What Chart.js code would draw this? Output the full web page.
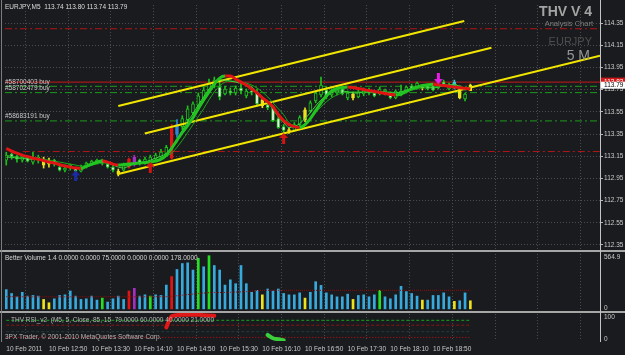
<!DOCTYPE html>
<html>
<head>
<meta charset="utf-8">
<title>EURJPY,M5</title>
<script src="https://cdn.jsdelivr.net/npm/chart.js@4.4.1/dist/chart.umd.min.js"></script>
<style>
html,body{margin:0;padding:0;background:#1a1b1e;overflow:hidden;}
#wrap{position:relative;width:625px;height:355px;}
#c{display:block;}
</style>
</head>
<body>
<div id="wrap"><canvas id="c" width="625" height="355"></canvas></div>
<script>
// ================= DATA =================
const headerText = 'EURJPY,M5  113.74 113.80 113.74 113.79';
const timeLabels = ['10 Feb 2011','10 Feb 12:50','10 Feb 13:30','10 Feb 14:10','10 Feb 14:50','10 Feb 15:30','10 Feb 16:10','10 Feb 16:50','10 Feb 17:30','10 Feb 18:10','10 Feb 18:50'];
const priceTicks = [114.35,114.15,113.95,113.75,113.55,113.35,113.15,112.95,112.75,112.55,112.35];

const opens = [
 113.114,113.168,113.150,113.114,113.141,113.097,113.114,113.123,113.079,113.114,
 113.052,113.025,113.043,113.043,113.016,113.052,113.079,113.097,113.114,113.079,
 113.052,113.016,113.025,113.052,113.079,113.114,113.097,113.097,113.123,113.141,
 113.168,113.132,113.346,113.417,113.480,113.542,113.604,113.676,113.738,113.791,
 113.774,113.711,113.738,113.720,113.765,113.694,113.738,113.729,113.658,113.613,
 113.587,113.489,113.417,113.391,113.382,113.435,113.480,113.560,113.649,113.702,
 113.747,113.702,113.720,113.756,113.676,113.711,113.685,113.711,113.747,113.720,
 113.711,113.711,113.720,113.676,113.702,113.738,113.783,113.765,113.765,113.783,
 113.783,113.765,113.818,113.756,113.765,113.747,113.667,113.740];
const highs = [
 113.186,113.177,113.159,113.159,113.150,113.186,113.159,113.141,113.132,113.123,
 113.061,113.070,113.079,113.052,113.070,113.097,113.114,113.123,113.123,113.097,
 113.070,113.034,113.088,113.132,113.159,113.123,113.141,113.159,113.177,113.212,
 113.248,113.435,113.480,113.515,113.604,113.640,113.720,113.774,113.845,113.863,
 113.845,113.783,113.765,113.783,113.809,113.756,113.774,113.756,113.676,113.631,
 113.604,113.506,113.435,113.408,113.453,113.515,113.587,113.649,113.738,113.863,
 113.774,113.756,113.783,113.774,113.738,113.729,113.747,113.765,113.765,113.738,
 113.774,113.756,113.729,113.747,113.791,113.783,113.800,113.818,113.791,113.800,
 113.800,113.809,113.836,113.809,113.836,113.783,113.720,113.800];
const lows = [
 113.070,113.123,113.097,113.097,113.097,113.079,113.088,113.043,113.052,113.061,
 113.016,113.008,113.025,113.008,113.008,113.043,113.070,113.088,113.070,113.043,
 113.008,112.972,113.016,113.043,113.061,113.070,113.079,113.079,113.114,113.123,
 113.159,113.123,113.319,113.391,113.462,113.524,113.587,113.658,113.720,113.765,
 113.658,113.702,113.702,113.702,113.711,113.676,113.702,113.604,113.587,113.569,
 113.462,113.400,113.364,113.355,113.373,113.417,113.462,113.542,113.631,113.685,
 113.667,113.685,113.702,113.702,113.658,113.658,113.676,113.694,113.702,113.685,
 113.702,113.702,113.667,113.667,113.694,113.720,113.747,113.756,113.747,113.747,
 113.738,113.756,113.791,113.747,113.756,113.667,113.649,113.740];
const closes = [
 113.159,113.141,113.123,113.141,113.106,113.132,113.141,113.070,113.114,113.079,
 113.025,113.043,113.070,113.016,113.052,113.088,113.106,113.114,113.088,113.052,
 113.025,112.990,113.070,113.123,113.141,113.088,113.123,113.141,113.159,113.186,
 113.230,113.400,113.435,113.489,113.578,113.622,113.694,113.747,113.809,113.836,
 113.685,113.756,113.720,113.765,113.738,113.738,113.729,113.622,113.604,113.587,
 113.471,113.408,113.382,113.373,113.435,113.497,113.569,113.631,113.720,113.791,
 113.685,113.738,113.765,113.711,113.720,113.676,113.729,113.747,113.720,113.694,
 113.756,113.747,113.676,113.738,113.738,113.774,113.756,113.809,113.783,113.756,
 113.747,113.791,113.800,113.791,113.818,113.676,113.711,113.790];

// candle highlight classes: n normal, y yellow, r red, m magenta, b blue, c cyan
const candleTags = 'nnnnnnn' + 'yy' + 'nnnnnnnnnnnn' + 'y' + 'n' + 'r' + 'm' + 'nnnnnn' + 'r' + 'b' +
  'nnnnnnnnnnnnnnn' + 'y' + 'nnnn' + 'y' + 'nn' + 'y' + 'nnnnnnnn' + 'y' + 'nnnnnnnnnnnn' + 'y' + 'nnnnn' + 'c' + 'y' + 'n' + 'y';

// Better Volume
const volumes = [
 195,156,122,168,129,136,129,96,62,102,
 136,142,181,129,96,102,129,89,109,69,
 102,129,96,181,208,129,142,129,142,136,
 241,327,399,459,466,393,512,426,538,439,
 393,241,294,255,439,255,168,188,142,201,
 181,201,156,142,142,162,109,168,275,238,
 162,142,122,122,149,96,136,142,122,142,
 188,122,102,142,228,175,156,129,89,89,
 136,136,162,122,76,82,162,82];
const volumeTags = 'nnnnnnn' + 'yy' + 'nnnnnnnnn' + 'g' + 'nnnn' + 'r' + 'm' + 'nn' + 'g' + 'nnn' + 'r' + 'nnnn' + 'g' + 'n' + 'g' +
  'nnnnnnnnn' + 'y' + 'nnnnnnn' + 'y' + 'nnnnnnnn' + 'y' + 'nnnn' + 'g' + 'nnnnnnn' + 'y' + 'nnnnn' + 'y' + 'nn' + 'y';
const volumeAvg = [
 124,124,123,123,123,122,122,122,122,122,
 122,122,122,122,122,122,122,122,122,122,
 122,122,122,122,123,123,123,123,123,123,
 124,128,133,139,145,150,156,160,164,166,
 166,167,168,170,172,175,180,186,188,188,
 188,188,188,188,188,188,188,188,188,188,
 188,188,188,188,188,188,188,188,188,188,
 188,188,188,188,188,188,188,188,188,188,
 188,188,188,188,188,188,188,188];

// thick trend average (red falling / green rising)
const trendMA = [
 113.221,113.195,113.177,113.159,113.146,113.132,113.123,113.110,113.097,113.088,
 113.074,113.061,113.052,113.043,113.039,113.061,113.079,113.097,113.106,113.097,
 113.079,113.070,113.074,113.079,113.083,113.088,113.092,113.097,113.106,113.123,
 113.159,113.221,113.293,113.364,113.426,113.497,113.578,113.658,113.729,113.800,
 113.854,113.872,113.872,113.845,113.818,113.791,113.756,113.720,113.676,113.640,
 113.595,113.524,113.471,113.435,113.417,113.408,113.435,113.489,113.560,113.631,
 113.694,113.738,113.760,113.769,113.774,113.769,113.760,113.751,113.742,113.734,
 113.725,113.716,113.707,113.702,113.711,113.734,113.756,113.774,113.787,113.794,
 113.798,113.794,113.787,113.780,113.774,113.767,113.762,113.756];
const emaFast = [
 113.141,113.141,113.132,113.132,113.123,113.123,113.123,113.114,113.106,113.097,
 113.079,113.061,113.052,113.043,113.043,113.052,113.070,113.088,113.097,113.088,
 113.070,113.052,113.043,113.061,113.079,113.088,113.097,113.114,113.132,113.150,
 113.177,113.230,113.302,113.382,113.462,113.533,113.613,113.685,113.756,113.809,
 113.836,113.836,113.827,113.818,113.809,113.791,113.774,113.729,113.685,113.640,
 113.569,113.506,113.453,113.408,113.417,113.444,113.489,113.542,113.604,113.658,
 113.694,113.720,113.738,113.738,113.729,113.720,113.720,113.729,113.729,113.720,
 113.729,113.729,113.720,113.720,113.729,113.747,113.756,113.774,113.774,113.774,
 113.765,113.774,113.791,113.791,113.800,113.774,113.747,113.765];
const emaSlow = [
 113.159,113.150,113.141,113.141,113.132,113.132,113.123,113.123,113.114,113.106,
 113.097,113.088,113.079,113.070,113.061,113.061,113.070,113.079,113.088,113.088,
 113.079,113.070,113.061,113.070,113.079,113.088,113.097,113.106,113.114,113.132,
 113.150,113.177,113.230,113.293,113.364,113.435,113.506,113.578,113.658,113.729,
 113.783,113.818,113.827,113.827,113.818,113.809,113.791,113.765,113.729,113.685,
 113.631,113.578,113.524,113.453,113.426,113.417,113.444,113.489,113.542,113.595,
 113.640,113.676,113.702,113.720,113.729,113.729,113.729,113.729,113.729,113.729,
 113.729,113.729,113.729,113.720,113.729,113.738,113.747,113.756,113.765,113.765,
 113.765,113.774,113.783,113.783,113.791,113.783,113.765,113.765];

// channel lines: [startBar, startPrice, endBar, endPrice]
const channelLines = [
 [20.99, 113.602, 85.85, 114.368],
 [25.96, 113.355, 90.95, 114.127],
 [20.80, 112.987, 111.30, 114.056]
];
// horizontal levels
const redDashLevels = [114.299, 113.192];
const redDashStart = [-0.24, 3.1];
const redSolidLevel = 113.818;
const buyLevels = [113.780, 113.723, 113.468];
const buyTickets = ['#58700403 buy', '#58702479 buy', '#58683191 buy'];
// signal arrows
const blueUpArrows = [{x:13, y:112.972}];
const redUpArrows = [{x:27, y:113.050}, {x:52, y:113.310}];
const magentaDownArrows = [{x:81, y:113.850}];

// RSI panel
const rsiLevels = [78, 60, 36, 15];
const rsiHighStart = 30;
const rsiHigh = [52, 93, 97, 98, 98, 98, 98, 97, 96, 95];
const rsiLowStart = 49;
const rsiLow = [24, 12, 8, 5];

const titleLines = ['THV V 4', 'Analysis Chart', 'EURJPY', '5 M'];
const volumeTitle = 'Better Volume 1.4 0.0000 0.0000 75.0000 0.0000 0.0000 178.0000';
const volumeMaxLabel = 564.9;
const rsiTitle = 'THV RSI_v2  (M5, 5, Close, 85, 15  79.0000 60.0000 40.0000 21.0000';
const copyrightText = '3PX Trader, \u00A9 2001-2010 MetaQuotes Software Corp.';
const bidLabel = '113.79', bidPrice = 113.79;
const askLabel = '113.82';

// ================= RENDER =================
const BG = '#1a1b1e';
const FONT = "'Liberation Sans', Arial, sans-serif";
const XMIN = -0.24, XMAX = 111.3;
const PMIN = 111.484, PMAX = 114.513;
const VMIN = -325, VMAX = 3075;
const RMIN = 1.82, RMAX = 1238.2;
const N = closes.length;
const idx = Array.from({length: N}, (_, i) => i);
const CANDLE_GREEN = '#1cc21c';
const tagColor = {y:'#ece21e', r:'#e01616', m:'#a530c0', b:'#2f86d6', c:'#33c9d9', g:'#22e022', n:'#36a9dd'};

function arrowImage(color, down) {
  const c = document.createElement('canvas');
  c.width = 9; c.height = 11;
  const g = c.getContext('2d');
  if (down) { g.translate(0, 11); g.scale(1, -1); }
  g.fillStyle = color;
  g.beginPath();
  g.moveTo(4.5, 0); g.lineTo(9, 5); g.lineTo(6, 5); g.lineTo(6, 11); g.lineTo(3, 11); g.lineTo(3, 5); g.lineTo(0, 5);
  g.closePath(); g.fill();
  return c;
}

const datasets = [];
// horizontal price levels
redDashLevels.forEach((p, k) => datasets.push({type:'line', data:[{x:redDashStart[k], y:p}, {x:XMAX, y:p}], yAxisID:'y', xAxisID:'x',
  borderColor:'#b01616', borderWidth:1, borderDash:[7,3,2,3], pointRadius:0, order:30}));
buyLevels.forEach(p => datasets.push({type:'line', data:[{x:XMIN, y:p}, {x:XMAX, y:p}], yAxisID:'y', xAxisID:'x',
  borderColor:'#1b9c1b', borderWidth:1, borderDash:[7,3,2,3], pointRadius:0, order:30}));
datasets.push({type:'line', data:[{x:XMIN, y:redSolidLevel}, {x:XMAX, y:redSolidLevel}], yAxisID:'y', xAxisID:'x',
  borderColor:'#c81818', borderWidth:1, pointRadius:0, order:29});

// candles
datasets.push({type:'bar', data: idx.map(i => ({x:i, y:[lows[i], highs[i]]})), yAxisID:'y', xAxisID:'x',
  backgroundColor: idx.map(i => candleTags[i] === 'n' ? CANDLE_GREEN : tagColor[candleTags[i]]),
  barThickness:1, grouped:false, borderWidth:0, order:20});
datasets.push({type:'bar', data: idx.map(i => ({x:i, y:[opens[i], closes[i]]})), yAxisID:'y', xAxisID:'x',
  backgroundColor: idx.map(i => candleTags[i] !== 'n' ? tagColor[candleTags[i]] : (closes[i] >= opens[i] ? BG : '#f4f4f4')),
  borderColor: idx.map(i => candleTags[i] !== 'n' ? tagColor[candleTags[i]] : CANDLE_GREEN),
  borderWidth:1, borderSkipped:false, minBarLength:1, barThickness:3, grouped:false, order:19});

// channel
channelLines.forEach(c => datasets.push({type:'line', data:[{x:c[0], y:c[1]}, {x:c[2], y:c[3]}], yAxisID:'y', xAxisID:'x',
  borderColor:'#f2e600', borderWidth:2, pointRadius:0, order:10}));

// averages
datasets.push({type:'line', data: idx.map(i => ({x:i, y:emaSlow[i]})), yAxisID:'y', xAxisID:'x',
  borderColor:'#1aa41a', borderWidth:1, pointRadius:0, cubicInterpolationMode:'monotone', order:8});
datasets.push({type:'line', data: idx.map(i => ({x:i, y:emaFast[i]})), yAxisID:'y', xAxisID:'x',
  borderColor:'#3ed83e', borderWidth:1, pointRadius:0, cubicInterpolationMode:'monotone', order:7});
datasets.push({type:'line', data: idx.map(i => ({x:i, y:trendMA[i]})), yAxisID:'y', xAxisID:'x',
  borderWidth:3, pointRadius:0, cubicInterpolationMode:'monotone', order:6,
  borderColor:'#e01414',
  segment:{borderColor: ctx => ctx.p1.parsed.y > ctx.p0.parsed.y ? '#22c422' : '#e01414'}});

// arrows
datasets.push({type:'scatter', data: blueUpArrows, yAxisID:'y', xAxisID:'x', pointStyle: arrowImage('#1c2aa8', false), order:2});
datasets.push({type:'scatter', data: redUpArrows, yAxisID:'y', xAxisID:'x', pointStyle: arrowImage('#d41414', false), order:2});
datasets.push({type:'scatter', data: magentaDownArrows, yAxisID:'y', xAxisID:'x', pointStyle: arrowImage('#e81ee8', true), order:2});

// volume panel
datasets.push({type:'bar', data: idx.map(i => ({x:i, y:volumes[i]})), yAxisID:'yv', xAxisID:'x',
  backgroundColor: idx.map(i => tagColor[volumeTags[i]]), barThickness:2, grouped:false, borderWidth:0, order:18});
datasets.push({type:'line', data: idx.map(i => ({x:i, y:volumeAvg[i]})), yAxisID:'yv', xAxisID:'x',
  borderColor:'#8e0c0c', borderWidth:1, borderDash:[1,1], pointRadius:0, order:17});

// RSI panel
const rsiLevelColors = ['#1aa01a', '#8a1414', '#1f3e40', '#c01414'];
const rsiLevelDash = [[3,2], [3,2], [3,2], [1,2]];
rsiLevels.forEach((v, k) => datasets.push({type:'line', data:[{x:0, y:v}, {x:N-1, y:v}], yAxisID:'yr', xAxisID:'x',
  borderColor: rsiLevelColors[k], borderWidth:1, borderDash: rsiLevelDash[k], pointRadius:0, order:25}));
datasets.push({type:'line', data: rsiHigh.map((v, k) => ({x:rsiHighStart + k, y:v})), yAxisID:'yr', xAxisID:'x',
  borderColor:'#e01818', borderWidth:4, pointRadius:0, cubicInterpolationMode:'monotone', borderCapStyle:'round', order:3});
datasets.push({type:'line', data: rsiLow.map((v, k) => ({x:rsiLowStart + k, y:v})), yAxisID:'yr', xAxisID:'x',
  borderColor:'#3ccf3c', borderWidth:4, pointRadius:0, cubicInterpolationMode:'monotone', borderCapStyle:'round', order:3});

const gridTicks = [];
for (let v = 3.62; v < XMAX; v += 8) gridTicks.push(v);

function zeroPad(s) { s.paddingTop = 0; s.paddingBottom = 0; s.paddingLeft = 0; s.paddingRight = 0; }

const overlay = {
  id: 'overlay',
  beforeDraw(chart) {
    const ctx = chart.ctx;
    ctx.save(); ctx.fillStyle = BG; ctx.fillRect(0, 0, chart.width, chart.height); ctx.restore();
  },
  afterDraw(chart) {
    const ctx = chart.ctx;
    const ys = chart.scales.y, yv = chart.scales.yv, yr = chart.scales.yr;
    ctx.save();
    // panel frame
    ctx.fillStyle = '#a6a6a6';
    ctx.fillRect(0, 250, 625, 2);
    ctx.fillRect(0, 311, 625, 2);
    ctx.fillStyle = '#7c7c7c'; ctx.fillRect(1, 0, 1, 342);
    ctx.fillStyle = '#c4c4c4'; ctx.fillRect(600, 0, 1, 342);

    ctx.textBaseline = 'middle';
    ctx.textAlign = 'left';
    ctx.font = '6.5px ' + FONT;
    ctx.fillStyle = '#dcdcdc';
    ctx.fillText(headerText, 5, 7);
    // tickets
    ctx.fillStyle = '#c8c8c8';
    buyLevels.forEach((p, k) => ctx.fillText(buyTickets[k], 5, ys.getPixelForValue(p) - 4.5));
    // panel titles
    ctx.fillStyle = '#d4d4d4';
    ctx.fillText(volumeTitle, 5, 258.5);
    ctx.fillStyle = '#b4b4b4';
    ctx.fillText(rsiTitle, 11, 320);
    ctx.fillText(copyrightText, 5, 337.5);
    // sub-window scale labels
    ctx.fillStyle = '#c8c8c8';
    ctx.fillText(String(volumeMaxLabel), 604, yv.getPixelForValue(volumeMaxLabel) + 4);
    ctx.fillText('0', 604, yv.getPixelForValue(0) - 0.5);
    ctx.fillText('100', 604, yr.getPixelForValue(100) + 3);
    ctx.fillText('0', 604, yr.getPixelForValue(0) - 2.5);
    // ask / bid boxes
    const ya = ys.getPixelForValue(redSolidLevel);
    ctx.fillStyle = '#d01818'; ctx.fillRect(601, ya - 4.5, 24, 9);
    ctx.fillStyle = '#ffffff'; ctx.fillText(askLabel, 604, ya);
    const yb = ys.getPixelForValue(bidPrice);
    ctx.fillStyle = '#ffffff'; ctx.fillRect(601, yb - 3.5, 24, 7);
    ctx.fillStyle = '#000000'; ctx.fillText(bidLabel, 604, yb);
    // watermark title block
    ctx.textAlign = 'right';
    ctx.fillStyle = '#a4a4a4'; ctx.font = 'bold 14px ' + FONT; ctx.fillText(titleLines[0], 592, 12);
    ctx.fillStyle = '#7e7e7e'; ctx.font = '7.5px ' + FONT; ctx.fillText(titleLines[1], 593, 24);
    ctx.fillStyle = '#4e4e4e'; ctx.font = '11px ' + FONT; ctx.fillText(titleLines[2], 592, 42);
    ctx.fillStyle = '#969696'; ctx.font = '14px ' + FONT; ctx.fillText(titleLines[3], 590, 56);
    ctx.restore();
  }
};

Chart.defaults.font.family = FONT;
Chart.defaults.font.size = 6.5;

new Chart(document.getElementById('c'), {
  type: 'line',
  data: { datasets },
  plugins: [overlay],
  options: {
    responsive: false, animation: false, devicePixelRatio: 1,
    layout: { padding: { left: 1, top: 1, right: 0, bottom: 0 } },
    plugins: { legend: { display: false }, tooltip: { enabled: false } },
    scales: {
      x: {
        type: 'linear', position: 'bottom', min: XMIN, max: XMAX, weight: 0, offset: false,
        grid: { color: '#4c4c4c', drawTicks: false, offset: false },
        border: { display: false, dash: [1, 2] },
        ticks: { display: false },
        afterBuildTicks: s => { s.ticks = gridTicks.map(v => ({ value: v })); },
        afterFit: s => { s.height = 0; zeroPad(s); }
      },
      xl: {
        type: 'linear', position: 'bottom', min: XMIN, max: XMAX, weight: 1, offset: false,
        grid: { display: false, drawTicks: false },
        border: { display: false },
        ticks: { autoSkip: false, maxRotation: 0, align: 'start', color: '#cacaca', padding: 4,
                 font: { size: 6.5 }, callback: (v, i) => timeLabels[i] },
        afterBuildTicks: s => { s.ticks = timeLabels.map((_, k) => ({ value: k * 8 })); },
        afterFit: s => { s.height = 14; zeroPad(s); }
      },
      y: {
        type: 'linear', position: 'right', min: PMIN, max: PMAX, weight: 2,
        grid: { color: '#4c4c4c', tickColor: '#b4b4b4', tickLength: 3, tickBorderDash: [] },
        border: { display: false, dash: [1, 2] },
        ticks: { autoSkip: false, color: '#cacaca', padding: 1, font: { size: 6.5 }, callback: v => v.toFixed(2) },
        afterBuildTicks: s => { s.ticks = priceTicks.map(v => ({ value: v })); },
        afterFit: s => { s.width = 25; zeroPad(s); }
      },
      yv: {
        type: 'linear', position: 'right', min: VMIN, max: VMAX, weight: 0,
        grid: { display: false }, border: { display: false }, ticks: { display: false },
        afterFit: s => { s.width = 0; zeroPad(s); }
      },
      yr: {
        type: 'linear', position: 'right', min: RMIN, max: RMAX, weight: 0,
        grid: { display: false }, border: { display: false }, ticks: { display: false },
        afterFit: s => { s.width = 0; zeroPad(s); }
      }
    }
  }
});
</script>
</body>
</html>
